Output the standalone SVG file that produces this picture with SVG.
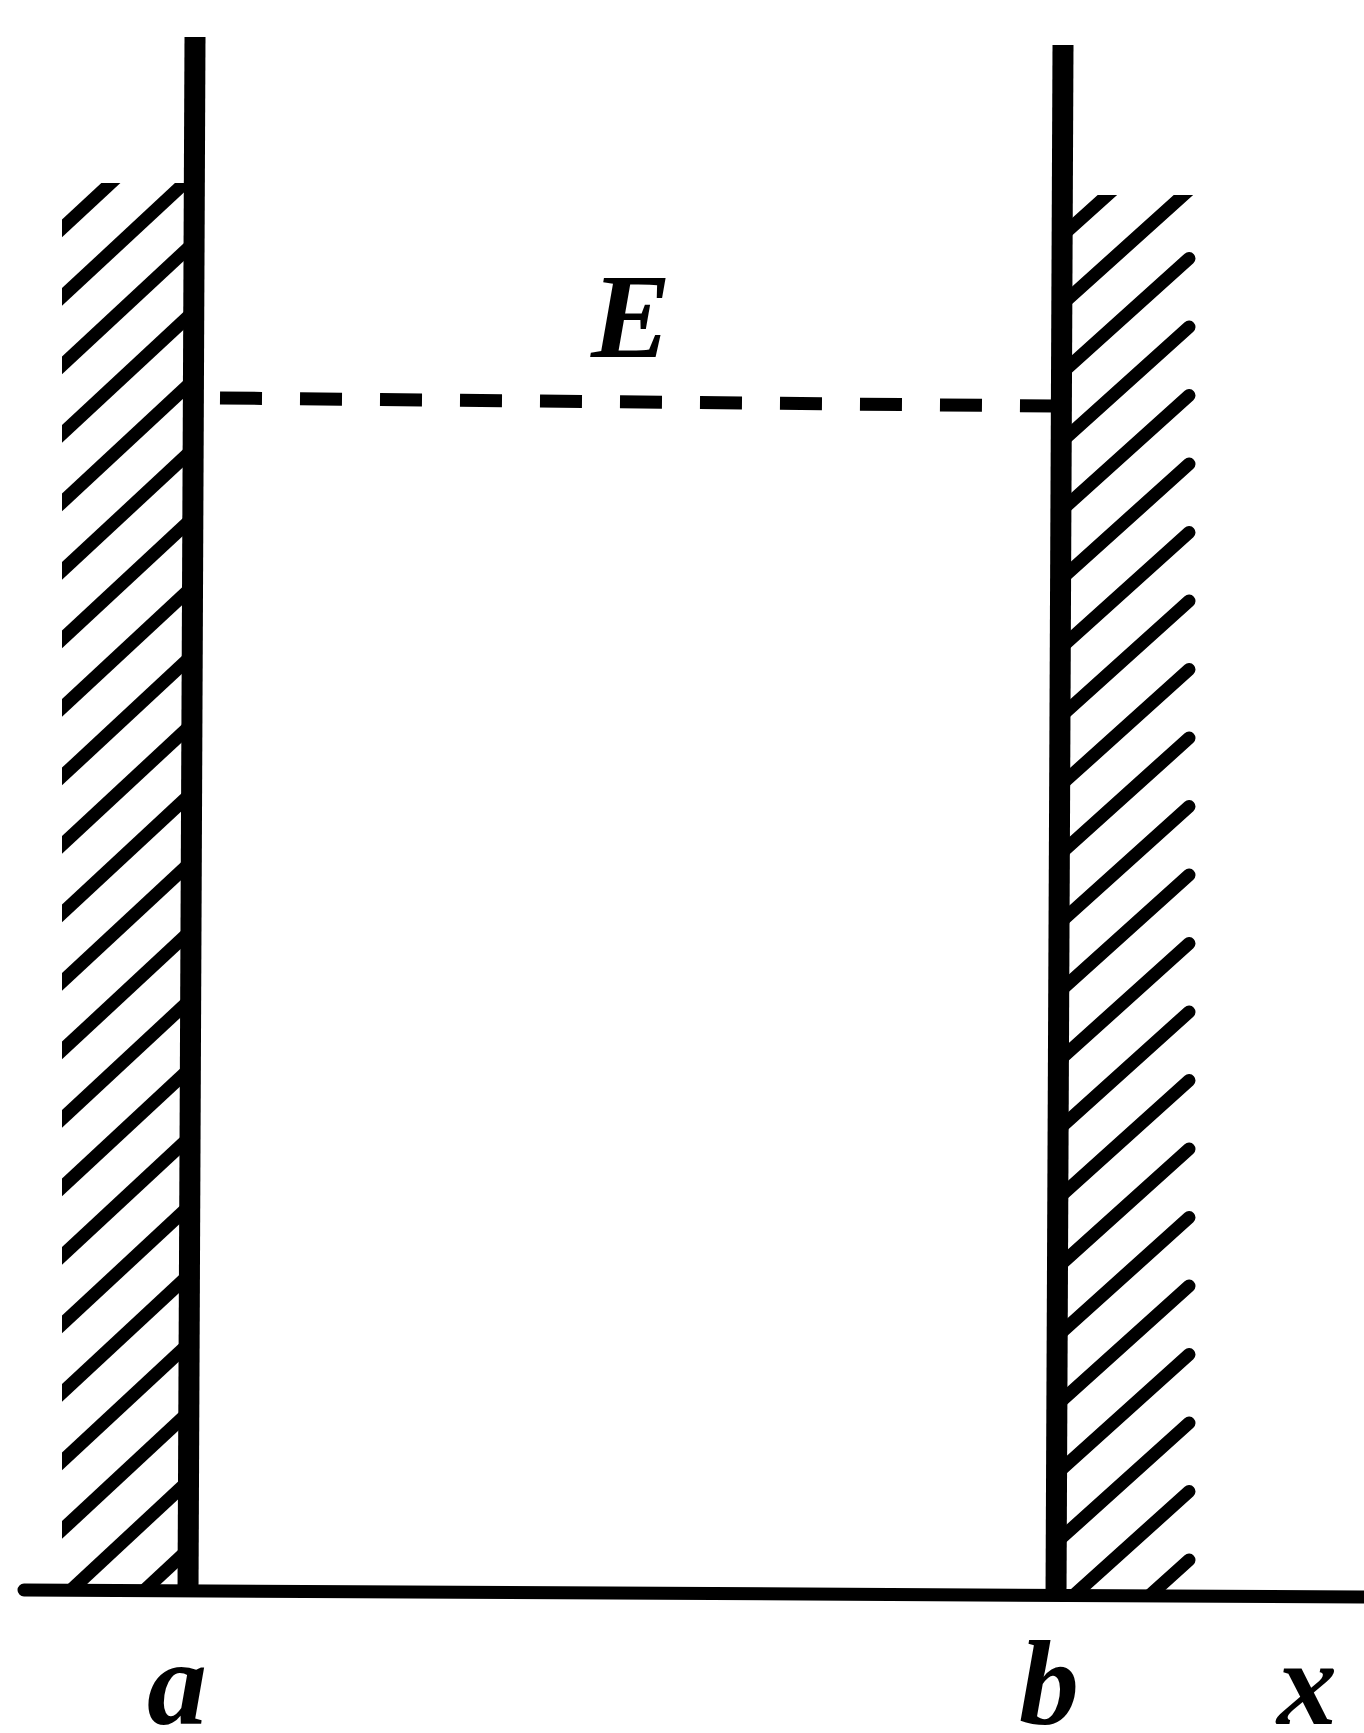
<svg xmlns="http://www.w3.org/2000/svg" xmlns:xlink="http://www.w3.org/1999/xlink" width="1364" height="1733" viewBox="0 0 1364 1733">
<style>
.h{stroke:#000;stroke-width:13;fill:none}
.hl{stroke-linecap:butt}
.hr{stroke-linecap:round}
.wall{stroke:#000;stroke-width:21;stroke-linecap:butt;fill:none}
.lbl{font-family:"Liberation Serif","Times New Roman",serif;font-style:italic;font-weight:bold;font-size:120px;fill:#000;text-anchor:middle}
</style>
<defs>
<clipPath id="cl"><rect x="62" y="183" width="130" height="1410"/></clipPath>
<clipPath id="cr"><rect x="1058" y="195" width="145" height="1398"/></clipPath>
<line id="lh" class="h hl" x1="55" y1="6.5" x2="192" y2="-121"/>
<line id="rh" class="h hr" x1="1058" y1="11" x2="1189" y2="-107"/>
</defs>
<rect width="1364" height="1733" fill="#fff"/>
<g id="left-hatch" clip-path="url(#cl)">
<use xlink:href="#lh" y="228.5"/><use xlink:href="#lh" y="297"/><use xlink:href="#lh" y="365.5"/><use xlink:href="#lh" y="434"/><use xlink:href="#lh" y="502.5"/><use xlink:href="#lh" y="571"/><use xlink:href="#lh" y="639.5"/><use xlink:href="#lh" y="708"/><use xlink:href="#lh" y="776.5"/><use xlink:href="#lh" y="845"/><use xlink:href="#lh" y="913.5"/><use xlink:href="#lh" y="982"/><use xlink:href="#lh" y="1050.5"/><use xlink:href="#lh" y="1119"/><use xlink:href="#lh" y="1187.5"/><use xlink:href="#lh" y="1256"/><use xlink:href="#lh" y="1324.5"/><use xlink:href="#lh" y="1393"/><use xlink:href="#lh" y="1461.5"/><use xlink:href="#lh" y="1530"/><use xlink:href="#lh" y="1598.5"/><use xlink:href="#lh" y="1667"/>
</g>
<g id="right-hatch" clip-path="url(#cr)">
<use xlink:href="#rh" y="228.5"/><use xlink:href="#rh" y="297"/><use xlink:href="#rh" y="365.5"/><use xlink:href="#rh" y="434"/><use xlink:href="#rh" y="502.5"/><use xlink:href="#rh" y="571"/><use xlink:href="#rh" y="639.5"/><use xlink:href="#rh" y="708"/><use xlink:href="#rh" y="776.5"/><use xlink:href="#rh" y="845"/><use xlink:href="#rh" y="913.5"/><use xlink:href="#rh" y="982"/><use xlink:href="#rh" y="1050.5"/><use xlink:href="#rh" y="1119"/><use xlink:href="#rh" y="1187.5"/><use xlink:href="#rh" y="1256"/><use xlink:href="#rh" y="1324.5"/><use xlink:href="#rh" y="1393"/><use xlink:href="#rh" y="1461.5"/><use xlink:href="#rh" y="1530"/><use xlink:href="#rh" y="1598.5"/><use xlink:href="#rh" y="1667"/>
</g>
<g id="walls">
<line id="wall-a" class="wall" x1="195" y1="37" x2="188" y2="1592"/>
<line id="wall-b" class="wall" x1="1063" y1="45" x2="1056" y2="1597" stroke-width="20"/>
</g>
<g id="axis">
<line x1="24" y1="1590" x2="1363" y2="1597" stroke="#000" stroke-width="13" stroke-linecap="round"/>
</g>
<g id="energy-level">
<line x1="220" y1="398" x2="1055" y2="406" stroke="#000" stroke-width="13" stroke-dasharray="42 38"/>
</g>
<g id="labels">
<text class="lbl" x="631" y="357" font-size="132">E</text>
<text class="lbl" x="177" y="1724">a</text>
<text class="lbl" x="1049" y="1724">b</text>
<text class="lbl" x="1307" y="1724">x</text>
</g>
</svg>
